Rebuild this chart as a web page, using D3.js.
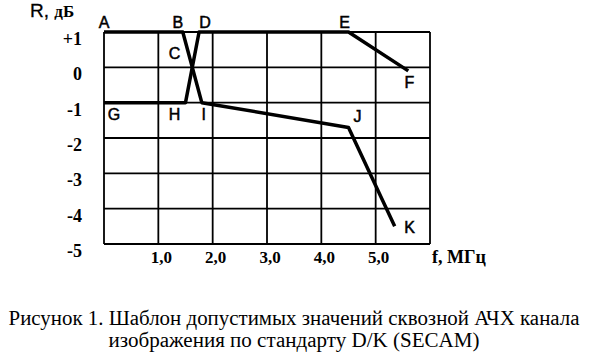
<!DOCTYPE html>
<html><head><meta charset="utf-8">
<script src="https://cdn.jsdelivr.net/npm/d3@7"></script>
<style>body{margin:0;background:#fff}svg{display:block}</style>
</head><body><svg id="c" width="592" height="358"></svg>
<script>
// Frequency ticks (MHz) and level ticks (dB)
const xTicks = [1, 2, 3, 4, 5];
const xTickLabels = ["1,0", "2,0", "3,0", "4,0", "5,0"];
const yTicks = [1, 0, -1, -2, -3, -4, -5];
const yTickLabels = ["+1", "0", "-1", "-2", "-3", "-4", "-5"];
// Upper template boundary: A-B-I-J-K
const upperNames = ["A", "B", "I", "J", "K"];
const upperF = [0, 1.45, 1.8, 4.5, 5.35];
const upperR = [1, 1, -1, -1.7, -4.5];
// Lower template boundary: G-H-D-E-F
const lowerNames = ["G", "H", "D", "E", "F"];
const lowerF = [0, 1.5, 1.75, 4.5, 5.6];
const lowerR = [-1, -1, 1, 1, -0.1];

const svg = d3.select("#c");
const x = d3.scaleLinear().domain([0, 6]).range([104, 430]);
const y = d3.scaleLinear().domain([-5, 1]).range([244, 32]);

// grid
const g = svg.append("g");
g.selectAll("line.v").data(d3.range(0, 7)).join("line")
  .attr("x1", d => x(d)).attr("x2", d => x(d)).attr("y1", y(1)).attr("y2", y(-5))
  .attr("stroke", "#000").attr("stroke-width", 1.8);
g.selectAll("line.h").data(d3.range(-5, 2)).join("line")
  .attr("x1", x(0)).attr("x2", x(6)).attr("y1", d => y(d)).attr("y2", d => y(d))
  .attr("stroke", "#000").attr("stroke-width", 1.8);

// y tick labels
svg.selectAll("text.yt").data(yTicks).join("text")
  .attr("x", 82).attr("y", d => y(d) + 13)
  .attr("text-anchor", "end")
  .attr("font-family", "Liberation Serif, serif").attr("font-weight", "bold")
  .attr("font-size", 18)
  .text((d, i) => yTickLabels[i]);

// x tick labels
svg.selectAll("text.xt").data(xTicks).join("text")
  .attr("x", d => x(d) + 3).attr("y", 263)
  .attr("text-anchor", "middle")
  .attr("font-family", "Liberation Serif, serif").attr("font-weight", "bold")
  .attr("font-size", 17)
  .text((d, i) => xTickLabels[i]);

// axis titles
const rt = svg.append("text").attr("x", 30).attr("y", 17)
  .attr("font-size", 19).attr("fill", "#000");
rt.append("tspan").attr("font-family", "Liberation Sans, sans-serif")
  .attr("stroke", "#000").attr("stroke-width", 0.3).text("R, ");
rt.append("tspan").attr("font-family", "Liberation Serif, serif").attr("font-weight", "bold")
  .attr("font-size", 17).text("дБ");
svg.append("text").attr("x", 432).attr("y", 263)
  .attr("font-family", "Liberation Serif, serif").attr("font-weight", "bold")
  .attr("font-size", 18).text("f, МГц");

// template lines
const line = d3.line().x(d => x(d[0])).y(d => y(d[1]));
const up = upperF.map((f, i) => [f, upperR[i]]);
const lo = lowerF.map((f, i) => [f, lowerR[i]]);
[up, lo].forEach(pts => {
  svg.append("path").attr("d", line(pts)).attr("fill", "none")
    .attr("stroke", "#000").attr("stroke-width", 3.5)
    .attr("stroke-linejoin", "round");
});

// point labels (offsets in pixels from their points)
const lab = (t, px, py, dx, dy) => svg.append("text")
  .attr("x", x(px) + dx).attr("y", y(py) + dy).attr("text-anchor", "middle")
  .attr("font-family", "Liberation Sans, sans-serif").attr("font-size", 16)
  .attr("stroke", "#000").attr("stroke-width", 0.5)
  .text(t);
lab(upperNames[0], upperF[0], upperR[0], 0, -4);
lab(upperNames[1], upperF[1], upperR[1], -5, -4);
lab(upperNames[2], upperF[2], upperR[2], 2, 17);
lab(upperNames[3], upperF[3], upperR[3], 9, -5);
lab(upperNames[4], upperF[4], upperR[4], 15, 7);
lab(lowerNames[0], lowerF[0], lowerR[0], 10, 17);
lab(lowerNames[1], lowerF[1], lowerR[1], -11, 17);
lab(lowerNames[2], lowerF[2], lowerR[2], 6, -4);
lab(lowerNames[3], lowerF[3], lowerR[3], -4, -4);
lab(lowerNames[4], lowerF[4], lowerR[4], 1, 17);
lab("C", 1.3, 0.5, 0, 9);

// caption
const cap = svg.append("text").attr("text-anchor", "middle")
  .attr("font-family", "Liberation Serif, serif").attr("font-size", 20.5);
cap.append("tspan").attr("x", 294).attr("y", 325)
  .attr("textLength", 571).attr("lengthAdjust", "spacingAndGlyphs")
  .text("Рисунок 1. Шаблон допустимых значений сквозной АЧХ канала");
cap.append("tspan").attr("x", 294).attr("y", 347)
  .attr("textLength", 371).attr("lengthAdjust", "spacingAndGlyphs")
  .text("изображения по стандарту D/K (SECAM)");
</script></body></html>
